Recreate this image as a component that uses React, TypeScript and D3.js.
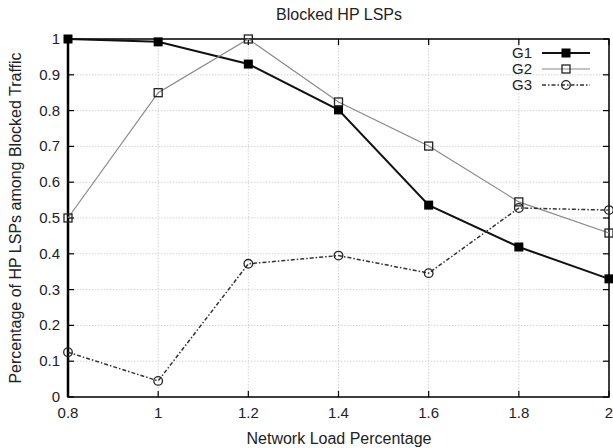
import React from "react";
import * as d3 from "d3";

const xValues = [0.8, 1.0, 1.2, 1.4, 1.6, 1.8, 2.0];
const g1 = [1.0, 0.992, 0.93, 0.802, 0.536, 0.419, 0.33];
const g2 = [0.5, 0.85, 1.0, 0.824, 0.701, 0.545, 0.458];
const g3 = [0.125, 0.045, 0.372, 0.395, 0.346, 0.528, 0.522];
const xTicks = [0.8, 1, 1.2, 1.4, 1.6, 1.8, 2];
const yTicks = [0, 0.1, 0.2, 0.3, 0.4, 0.5, 0.6, 0.7, 0.8, 0.9, 1];
const seriesNames = ["G1", "G2", "G3"];

const W = 613;
const H = 448;
const left = 68;
const right = 609;
const top = 39;
const bottom = 397;

export default function App() {
  const x = d3.scaleLinear().domain([0.8, 2]).range([left, right]);
  const y = d3.scaleLinear().domain([0, 1]).range([bottom, top]);
  const line = d3
    .line<number>()
    .x((_, i) => x(xValues[i]))
    .y((d) => y(d));
  const font = "'Liberation Sans', Arial, Helvetica, sans-serif";
  const sq = 9;

  const series = [
    { name: seriesNames[0], data: g1, stroke: "#111", width: 2, dash: undefined as string | undefined, marker: "fsq" },
    { name: seriesNames[1], data: g2, stroke: "#888", width: 1.2, dash: undefined, marker: "osq" },
    { name: seriesNames[2], data: g3, stroke: "#333", width: 1.5, dash: "4,2,1.5,2", marker: "circ" },
  ];

  const marker = (kind: string, cx: number, cy: number, key: string) => {
    if (kind === "fsq")
      return <rect key={key} x={cx - sq / 2} y={cy - sq / 2} width={sq} height={sq} fill="#000" />;
    if (kind === "osq")
      return (
        <rect key={key} x={cx - sq / 2 + 0.5} y={cy - sq / 2 + 0.5} width={sq - 1} height={sq - 1} fill="none" stroke="#222" strokeWidth={1.3} />
      );
    return <circle key={key} cx={cx} cy={cy} r={4.3} fill="none" stroke="#222" strokeWidth={1.3} />;
  };

  const legendY = [53, 69, 85];

  return (
    <svg width={W} height={H} style={{ position: "absolute", left: 0, top: 0, background: "#fff" }} fontFamily={font}>
      <rect x={0} y={0} width={W} height={H} fill="#fff" />
      {/* grid */}
      {xTicks.map((t) => (
        <line key={"gx" + t} x1={x(t)} x2={x(t)} y1={top} y2={bottom} stroke="#c8c8c8" strokeWidth={0.8} strokeDasharray="1.5,1.5" />
      ))}
      {yTicks.map((t) => (
        <line key={"gy" + t} x1={left} x2={right} y1={y(t)} y2={y(t)} stroke="#c8c8c8" strokeWidth={0.8} strokeDasharray="1.5,1.5" />
      ))}
      {/* ticks inward */}
      {xTicks.map((t) => (
        <g key={"tx" + t}>
          <line x1={x(t)} x2={x(t)} y1={bottom} y2={bottom - 6} stroke="#000" strokeWidth={1.2} />
          <line x1={x(t)} x2={x(t)} y1={top} y2={top + 6} stroke="#000" strokeWidth={1.2} />
          <text x={x(t)} y={bottom + 21} textAnchor="middle" fontSize={15} fill="#222">
            {t}
          </text>
        </g>
      ))}
      {yTicks.map((t) => (
        <g key={"ty" + t}>
          <line x1={left} x2={left + 6} y1={y(t)} y2={y(t)} stroke="#000" strokeWidth={1.2} />
          <line x1={right} x2={right - 6} y1={y(t)} y2={y(t)} stroke="#000" strokeWidth={1.2} />
          <text x={left - 8} y={y(t) + 5} textAnchor="end" fontSize={15} fill="#222">
            {t}
          </text>
        </g>
      ))}
      {/* frame */}
      <rect x={left} y={top} width={right - left} height={bottom - top} fill="none" stroke="#000" strokeWidth={1.5} />
      <line x1={left} x2={left} y1={top} y2={bottom} stroke="#000" strokeWidth={2.5} />
      {/* series */}
      {series.map((s) => (
        <g key={s.name}>
          <path d={line(s.data) || ""} fill="none" stroke={s.stroke} strokeWidth={s.width} strokeDasharray={s.dash} />
          {s.data.map((v, i) => marker(s.marker, x(xValues[i]), y(v), s.name + i))}
        </g>
      ))}
      {/* legend */}
      {series.map((s, i) => (
        <g key={"lg" + s.name}>
          <text x={532} y={legendY[i] + 5} textAnchor="end" fontSize={15} fill="#222">
            {s.name}
          </text>
          <line x1={542} x2={590} y1={legendY[i]} y2={legendY[i]} stroke={s.stroke} strokeWidth={s.width} strokeDasharray={s.dash} />
          {marker(s.marker, 566, legendY[i], "lm" + i)}
        </g>
      ))}
      {/* titles */}
      <text x={339} y={20} textAnchor="middle" fontSize={16} fill="#222">
        Blocked HP LSPs
      </text>
      <text x={339} y={444} textAnchor="middle" fontSize={16} fill="#222">
        Network Load Percentage
      </text>
      <text transform={`translate(21,${(top + bottom) / 2}) rotate(-90)`} textAnchor="middle" fontSize={16} fill="#222">
        Percentage of HP LSPs among Blocked Traffic
      </text>
    </svg>
  );
}
